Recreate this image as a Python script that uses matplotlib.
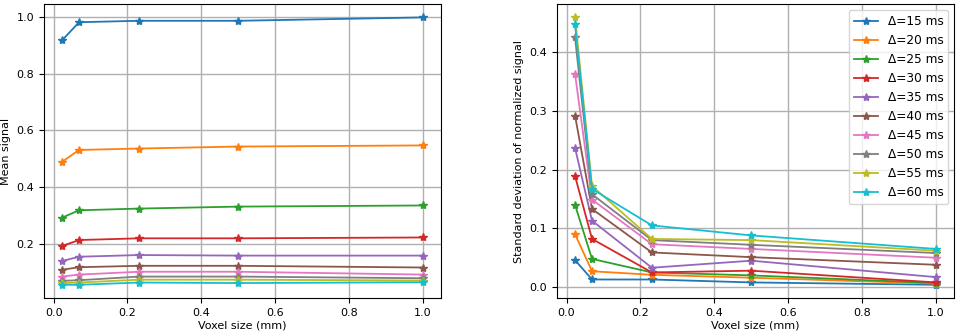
import matplotlib
matplotlib.use('Agg')
import matplotlib.pyplot as plt

# voxel sizes (mm)
voxel = [0.023, 0.069, 0.231, 0.50, 1.0]

deltas = [15, 20, 25, 30, 35, 40, 45, 50, 55, 60]

mean_signal = [
    [0.918, 0.982, 0.987, 0.987, 0.999],
    [0.489, 0.531, 0.536, 0.543, 0.547],
    [0.292, 0.318, 0.324, 0.331, 0.335],
    [0.192, 0.213, 0.219, 0.219, 0.222],
    [0.139, 0.154, 0.160, 0.158, 0.158],
    [0.108, 0.117, 0.122, 0.122, 0.116],
    [0.084, 0.091, 0.101, 0.101, 0.091],
    [0.069, 0.071, 0.084, 0.084, 0.078],
    [0.061, 0.063, 0.073, 0.073, 0.070],
    [0.055, 0.055, 0.063, 0.061, 0.064],
]

std_signal = [
    [0.046, 0.013, 0.013, 0.008, 0.004],
    [0.090, 0.027, 0.021, 0.016, 0.006],
    [0.140, 0.048, 0.025, 0.020, 0.007],
    [0.189, 0.082, 0.025, 0.028, 0.008],
    [0.237, 0.113, 0.033, 0.045, 0.017],
    [0.292, 0.133, 0.059, 0.051, 0.038],
    [0.363, 0.149, 0.073, 0.065, 0.050],
    [0.425, 0.158, 0.080, 0.072, 0.058],
    [0.459, 0.172, 0.082, 0.080, 0.062],
    [0.447, 0.167, 0.105, 0.088, 0.065],
]

plt.rcParams['font.size'] = 8

fig = plt.figure(figsize=(9.57, 3.35), dpi=100)
ax1 = fig.add_axes([0.046, 0.110, 0.415, 0.878])
ax2 = fig.add_axes([0.582, 0.110, 0.415, 0.878])

for d, m, s in zip(deltas, mean_signal, std_signal):
    lab = '\u0394=%d ms' % d
    ax1.plot(voxel, m, marker='*', markersize=6, linewidth=1.3, label=lab)
    ax2.plot(voxel, s, marker='*', markersize=6, linewidth=1.3, label=lab)

ax1.set_xlabel('Voxel size (mm)', labelpad=2)
ax1.set_ylabel('Mean signal')
ax1.grid(True, color='#b0b0b0', linewidth=1.0)

ax2.set_xlabel('Voxel size (mm)', labelpad=2)
ax2.set_ylabel('Standard deviation of normalized signal')
ax2.grid(True, color='#b0b0b0', linewidth=1.0)
ax2.legend(loc='upper right', fontsize=8.7)

fig.savefig('out.png', dpi=100)
